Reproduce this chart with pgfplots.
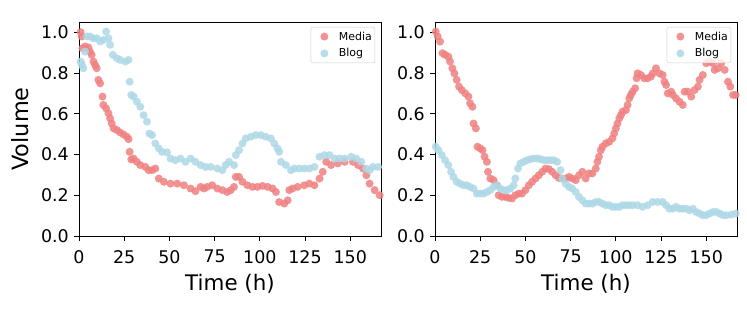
\documentclass[border=0pt]{standalone}
\usepackage{fontspec}
\setmainfont{DejaVu Sans}
\usepackage{pgfplots}
\pgfplotsset{compat=1.18}
\definecolor{mediac}{HTML}{F08080}
\definecolor{blogc}{HTML}{ADD8E6}
\pgfplotsset{
  myax/.style={
    scale only axis, width=302bp, height=214bp,
    xmin=0, xmax=167, ymin=0, ymax=1.05,
    axis line style={line width=0.9bp},
    tick pos=left, tick align=outside,
    major tick length=5bp,
    every tick/.style={black, line width=0.9bp},
    xtick={0,25,50,75,100,125,150},
    ytick={0,0.2,0.4,0.6,0.8,1.0},
    /pgf/number format/assume math mode=true,
    ticklabel style={font=\fontsize{17.5}{21}\selectfont},
    xticklabel style={inner sep=1bp, yshift=-8bp},
    yticklabel style={inner sep=1bp, xshift=-4bp, /pgf/number format/fixed, /pgf/number format/fixed zerofill, /pgf/number format/precision=1},
    every axis x label/.style={at={(axis description cs:0.5,0)}, anchor=base, yshift=-54bp, font=\fontsize{21.5}{25}\selectfont},
    every axis y label/.style={at={(axis description cs:0,0.5)}, xshift=-51bp, rotate=90, anchor=base, font=\fontsize{22.5}{26}\selectfont},
    xlabel={Time (h)},
    legend style={at={(1,1)}, anchor=north east, xshift=-6bp, yshift=-5bp,
      font=\fontsize{11}{13}\selectfont, draw=black!20, rounded corners=2bp,
      fill=white, fill opacity=0.8, text opacity=1, inner xsep=0.5bp, inner ysep=2bp,
      row sep=2bp, nodes={inner sep=2.5bp}},
    legend cell align=left,
  },
  lim/.style={legend image code/.code={\path[draw=none, fill=none] (0bp,-3bp) rectangle (25bp,3bp); \draw[mark repeat=2,mark phase=2,##1,draw opacity=0] plot coordinates {(0bp,0bp)(13bp,0bp)(26bp,0bp)};}},
  med/.style={only marks, color=mediac, mark=*, mark size=4bp, mark options={draw opacity=0, fill=mediac, fill opacity=0.85}, lim},
  blo/.style={only marks, color=blogc, mark=*, mark size=4bp, mark options={draw opacity=0, fill=blogc, fill opacity=0.85}, lim},
}
\begin{document}
\begin{tikzpicture}
\path[use as bounding box] (0,0) rectangle (747bp,315bp);
\begin{axis}[myax, at={(79bp,79bp)}, anchor=south west, ylabel={Volume}]
\addplot[med] coordinates {
(0.9,1.00)(1.5,0.979)(1.9,0.921)(3.3,0.930)(5.2,0.925)(6.1,0.905)(7.0,0.889)(8.0,0.856)(8.9,0.839)(9.8,0.823)
(10.7,0.766)(11.7,0.749)(13.0,0.684)(13.5,0.643)(15.0,0.626)(16.3,0.602)(17.2,0.577)(18.1,0.552)(19.1,0.528)(20.9,0.520)
(22.8,0.508)(24.6,0.498)(26.5,0.487)(27.4,0.475)(28.0,0.413)(28.9,0.375)(30.2,0.380)(32.0,0.364)(33.9,0.348)(36.7,0.339)
(38.5,0.323)(40.4,0.323)(42.2,0.331)(44.1,0.282)(46.9,0.266)(50.6,0.257)(54.3,0.257)(58.0,0.249)(61.7,0.233)(64.4,0.220)
(67.2,0.241)(69.1,0.233)(70.9,0.241)(73.7,0.249)(76.5,0.233)(79.3,0.225)(82.0,0.216)(83.9,0.225)(85.7,0.241)(86.7,0.290)
(88.5,0.290)(90.4,0.266)(93.1,0.249)(95.9,0.241)(98.7,0.241)(101.5,0.246)(104.3,0.241)(107.0,0.233)(108.9,0.216)(110.7,0.167)
(113.5,0.159)(115.4,0.175)(116.3,0.225)(118.1,0.233)(120.9,0.241)(124.6,0.249)(127.4,0.257)(130.2,0.249)(133.0,0.282)(134.8,0.315)
(136.7,0.364)(139.4,0.348)(143.1,0.356)(146.9,0.364)(151.5,0.364)(154.3,0.348)(157.0,0.331)(158.9,0.298)(160.7,0.257)(163.5,0.225)
(166.3,0.200)
};
\addlegendentry{Media}
\addplot[blo] coordinates {
(0.9,0.856)(1.7,0.839)(2.4,0.823)(3.3,0.905)(4.3,0.979)(6.1,0.979)(8.0,0.970)(9.8,0.970)(11.7,0.954)(13.5,0.962)
(15.0,1.003)(16.3,0.970)(17.2,0.938)(18.7,0.889)(20.9,0.872)(22.8,0.864)(25.6,0.856)(27.4,0.864)(28.0,0.757)(28.9,0.692)
(30.2,0.684)(32.0,0.659)(33.9,0.634)(35.7,0.593)(37.6,0.561)(38.9,0.503)(40.4,0.495)(42.2,0.454)(44.1,0.430)(45.9,0.413)
(48.7,0.410)(50.6,0.380)(53.3,0.372)(56.1,0.380)(58.9,0.364)(61.7,0.380)(64.4,0.364)(67.2,0.348)(70.0,0.339)(72.8,0.339)
(76.5,0.331)(79.3,0.323)(81.1,0.348)(83.0,0.364)(85.7,0.348)(86.7,0.397)(88.5,0.421)(90.4,0.454)(92.2,0.479)(95.0,0.487)
(97.8,0.495)(100.6,0.495)(103.3,0.487)(106.1,0.479)(108.0,0.454)(109.8,0.430)(110.7,0.413)(111.7,0.364)(114.4,0.348)(117.2,0.323)
(119.1,0.331)(121.9,0.331)(124.6,0.331)(127.4,0.331)(130.2,0.339)(133.0,0.389)(135.7,0.397)(138.5,0.397)(141.3,0.380)(144.1,0.380)
(146.9,0.380)(150.6,0.389)(153.3,0.380)(156.1,0.364)(158.9,0.331)(160.7,0.323)(162.6,0.339)(165.4,0.339)(167.2,0.331)
};
\addlegendentry{Blog}
\end{axis}
\begin{axis}[myax, at={(435bp,79bp)}, anchor=south west]
\addplot[med] coordinates {
(0.4,1.003)(1.5,0.979)(2.8,0.954)(4.1,0.897)(5.6,0.889)(7.4,0.880)(8.3,0.856)(9.6,0.823)(10.7,0.798)(12.0,0.766)
(13.3,0.733)(14.8,0.716)(16.7,0.700)(18.5,0.684)(19.4,0.651)(20.7,0.634)(21.3,0.552)(22.6,0.528)(23.5,0.438)(25.0,0.430)
(26.3,0.421)(27.4,0.389)(28.7,0.364)(29.3,0.315)(30.6,0.282)(32.4,0.274)(34.3,0.249)(35.2,0.200)(37.0,0.192)(38.9,0.192)
(40.7,0.187)(42.6,0.184)(44.4,0.200)(46.3,0.208)(48.1,0.208)(50.0,0.225)(51.9,0.249)(53.7,0.266)(55.6,0.282)(57.4,0.298)
(59.3,0.315)(61.1,0.331)(63.0,0.328)(64.8,0.315)(66.7,0.298)(68.5,0.285)(70.4,0.282)(72.2,0.282)(74.1,0.290)(75.9,0.282)
(77.8,0.274)(79.6,0.298)(81.5,0.315)(83.3,0.282)(85.2,0.307)(87.0,0.307)(88.9,0.331)(89.8,0.364)(90.7,0.389)(91.7,0.421)
(92.6,0.438)(94.4,0.454)(96.3,0.462)(98.1,0.479)(99.1,0.503)(100.0,0.528)(100.9,0.552)(101.9,0.577)(102.8,0.593)(103.7,0.610)
(105.6,0.618)(106.5,0.643)(107.4,0.675)(108.3,0.692)(109.3,0.708)(110.7,0.725)(111.5,0.774)(112.0,0.798)(113.9,0.790)(115.7,0.774)
(117.6,0.774)(119.4,0.782)(120.4,0.798)(122.2,0.823)(124.1,0.798)(125.9,0.790)(126.9,0.757)(127.8,0.741)(128.7,0.700)(130.6,0.708)
(131.5,0.692)(133.3,0.675)(135.2,0.659)(137.0,0.643)(138.0,0.708)(139.8,0.708)(141.7,0.684)(143.5,0.716)(145.4,0.733)(146.3,0.766)
(148.1,0.790)(150.0,0.848)(151.9,0.856)(153.7,0.848)(154.6,0.815)(156.5,0.823)(158.3,0.848)(160.2,0.815)(162.0,0.757)(163.3,0.733)
(164.8,0.692)(166.3,0.692)
};
\addlegendentry{Media}
\addplot[blo] coordinates {
(0.4,0.438)(1.9,0.421)(3.7,0.397)(5.6,0.372)(7.4,0.348)(8.9,0.315)(10.2,0.290)(12.0,0.266)(13.9,0.257)(15.7,0.249)
(17.6,0.249)(19.4,0.241)(21.3,0.233)(23.1,0.208)(25.0,0.208)(26.9,0.208)(28.7,0.216)(30.6,0.225)(32.4,0.241)(34.3,0.249)
(36.1,0.233)(38.0,0.225)(39.8,0.225)(41.7,0.233)(43.5,0.249)(44.4,0.282)(45.9,0.331)(47.2,0.356)(49.1,0.364)(50.9,0.372)
(52.8,0.377)(54.6,0.380)(56.5,0.380)(58.3,0.377)(60.2,0.372)(62.0,0.372)(63.9,0.372)(65.7,0.372)(67.6,0.364)(69.4,0.323)
(70.4,0.282)(72.2,0.257)(74.1,0.241)(75.9,0.233)(77.8,0.216)(79.6,0.192)(81.5,0.175)(83.3,0.159)(85.2,0.159)(87.0,0.159)
(88.9,0.167)(90.7,0.167)(92.6,0.159)(94.4,0.151)(96.3,0.151)(98.1,0.143)(100.0,0.143)(101.9,0.143)(103.7,0.151)(105.6,0.151)
(107.4,0.151)(109.3,0.151)(112.0,0.151)(114.8,0.143)(117.6,0.151)(120.4,0.167)(123.1,0.167)(125.9,0.167)(127.8,0.151)(129.6,0.134)
(131.5,0.134)(133.3,0.143)(135.2,0.134)(137.0,0.134)(138.9,0.134)(140.7,0.126)(142.6,0.134)(144.4,0.118)(146.3,0.110)(148.1,0.102)
(150.0,0.102)(151.9,0.110)(153.7,0.118)(155.6,0.118)(157.4,0.110)(159.3,0.102)(161.1,0.102)(163.9,0.105)(166.3,0.110)
};
\addlegendentry{Blog}
\end{axis}
\end{tikzpicture}
\end{document}
